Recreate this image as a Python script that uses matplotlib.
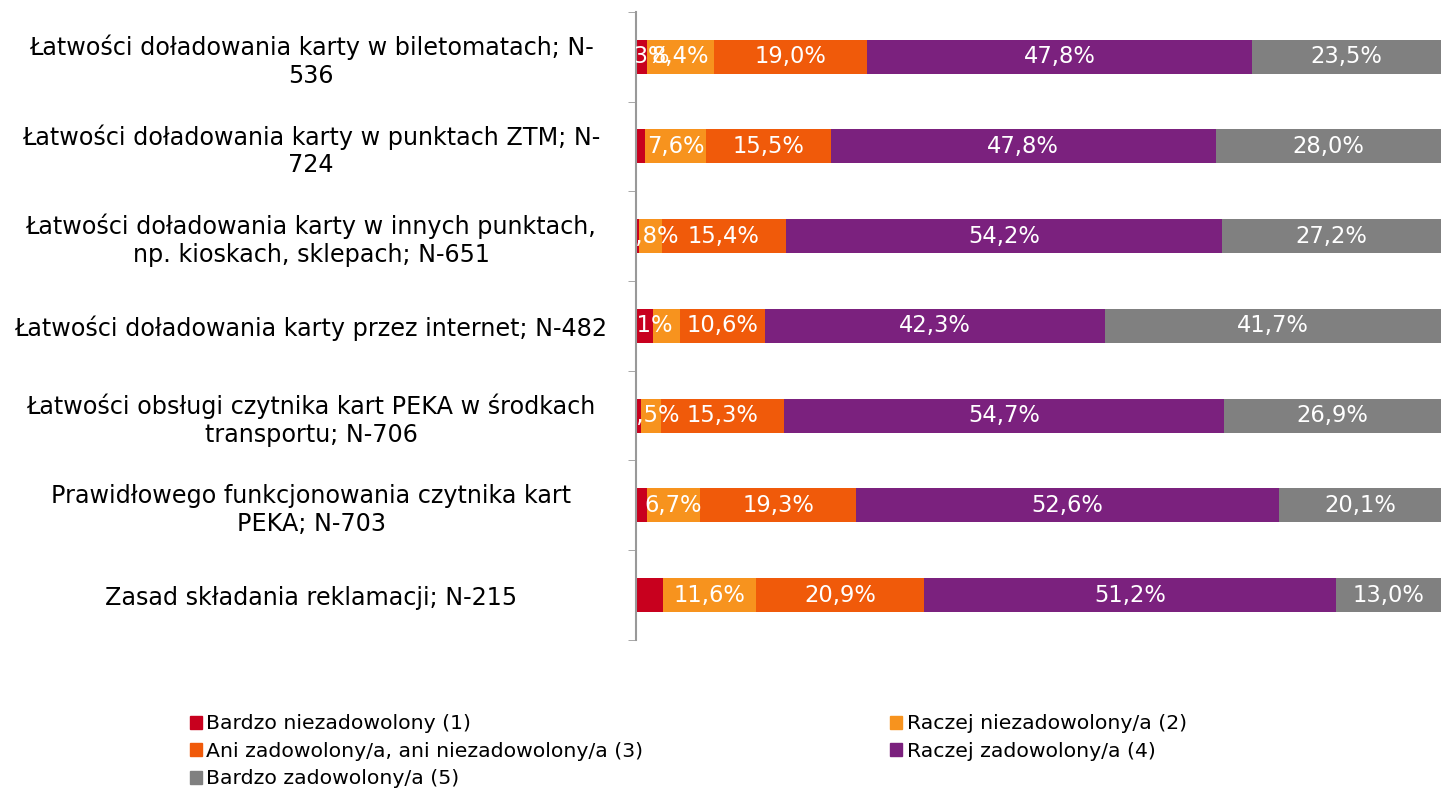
import matplotlib.pyplot as plt
from matplotlib.patches import Patch

categories = [
    "Łatwości doładowania karty w biletomatach; N-\n536",
    "Łatwości doładowania karty w punktach ZTM; N-\n724",
    "Łatwości doładowania karty w innych punktach,\nnp. kioskach, sklepach; N-651",
    "Łatwości doładowania karty przez internet; N-482",
    "Łatwości obsługi czytnika kart PEKA w środkach\ntransportu; N-706",
    "Prawidłowego funkcjonowania czytnika kart\nPEKA; N-703",
    "Zasad składania reklamacji; N-215",
]

series_names = [
    "Bardzo niezadowolony (1)",
    "Raczej niezadowolony/a (2)",
    "Ani zadowolony/a, ani niezadowolony/a (3)",
    "Raczej zadowolony/a (4)",
    "Bardzo zadowolony/a (5)",
]

s1 = [1.3, 1.1, 0.4, 2.1, 0.6, 1.3, 3.3]
s2 = [8.4, 7.6, 2.8, 3.3, 2.5, 6.7, 11.6]
s3 = [19.0, 15.5, 15.4, 10.6, 15.3, 19.3, 20.9]
s4 = [47.8, 47.8, 54.2, 42.3, 54.7, 52.6, 51.2]
s5 = [23.5, 28.0, 27.2, 41.7, 26.9, 20.1, 13.0]

# (series, row) labels that the original chart does not show
hidden_labels = [(0, 1), (0, 2), (0, 4), (0, 5), (0, 6), (1, 3)]

colors = ["#C8001E", "#F7931E", "#F05A0A", "#7B217E", "#808080"]

fig = plt.figure(figsize=(14.41, 7.89), dpi=100)
ax = fig.add_axes([0.4414, 0.189, 0.5586, 0.796])

data = [s1, s2, s3, s4, s5]
y = list(range(len(categories)))
left = [0.0] * len(categories)
for k, (vals, col) in enumerate(zip(data, colors)):
    ax.barh(y, vals, left=left, height=0.38, color=col, edgecolor="none")
    for i, v in enumerate(vals):
        if (k, i) in hidden_labels:
            continue
        txt = f"{v:.1f}".replace(".", ",") + "%"
        ax.text(left[i] + v / 2, i, txt, ha="center", va="center",
                color="white", fontsize=16.3, clip_on=True)
    left = [l + v for l, v in zip(left, vals)]

ax.set_xlim(0, 100)
ax.set_ylim(len(categories) - 0.5, -0.5)
ax.set_yticks(y)
ax.set_yticklabels(categories, fontsize=17.2, ha="center")
ax.tick_params(axis="y", length=0, pad=234)
ax.set_yticks([i - 0.5 for i in range(len(categories) + 1)], minor=True)
ax.tick_params(axis="y", which="minor", length=6, color="#999999")
ax.set_xticks([])
for s in ["top", "right", "bottom"]:
    ax.spines[s].set_visible(False)
ax.spines["left"].set_color("#999999")
ax.spines["left"].set_linewidth(1.5)

handles = [Patch(color=c) for c in colors]
order = [0, 2, 4, 1, 3]
fig.legend([handles[i] for i in order], [series_names[i] for i in order],
           loc="upper left", bbox_to_anchor=(0.119, 0.118), ncol=2,
           frameon=False, fontsize=14.7, handlelength=0.6, handleheight=0.6,
           handletextpad=0.2, columnspacing=12.1, labelspacing=0.42)

fig.savefig("out.png", dpi=100)
